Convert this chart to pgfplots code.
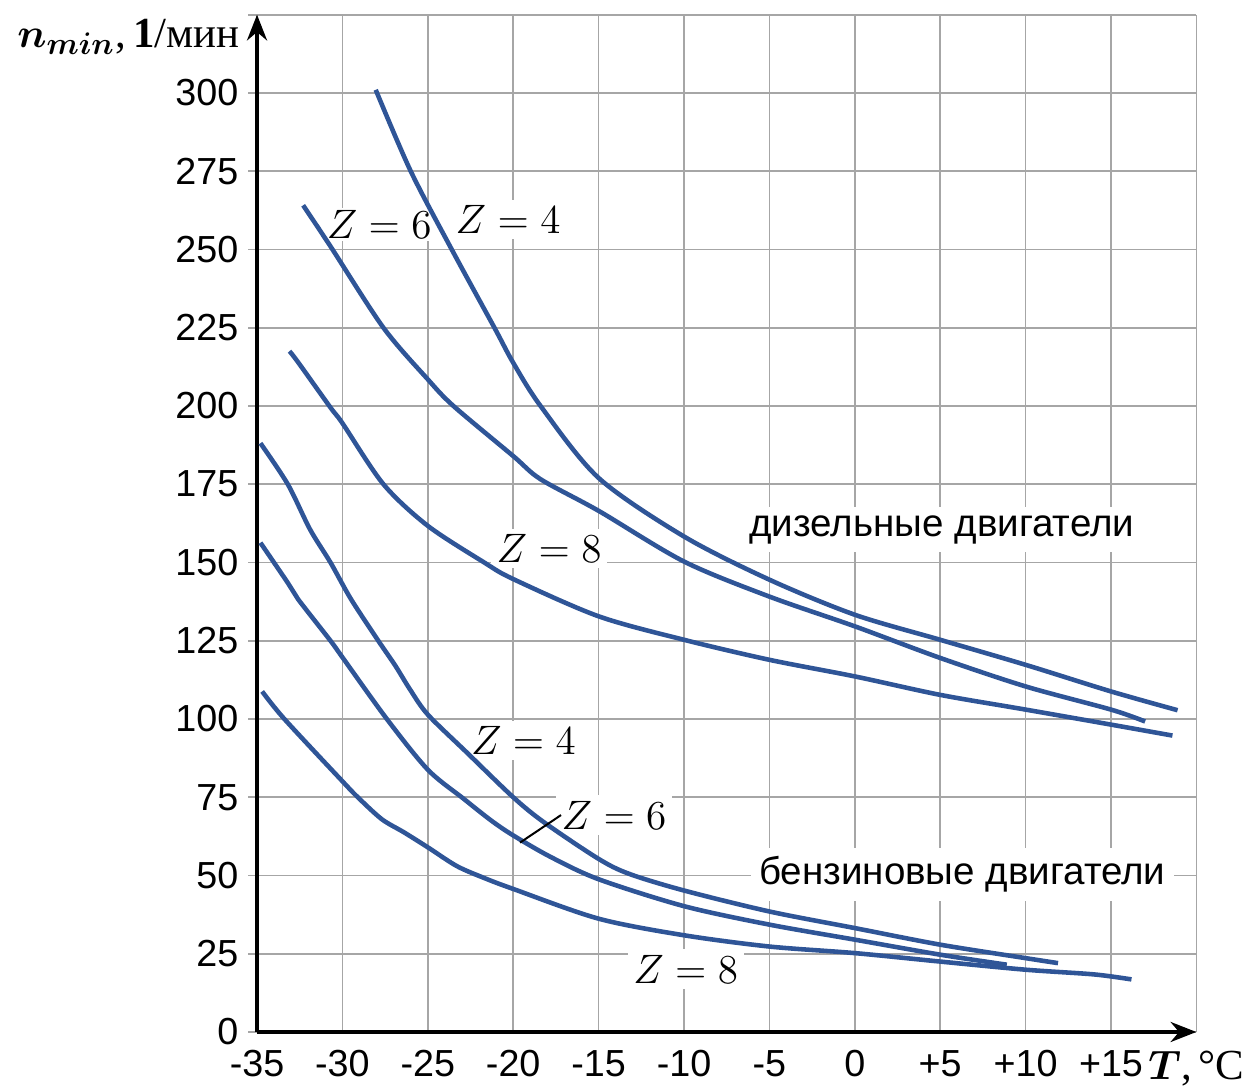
\documentclass[border=0pt]{standalone}
\usepackage{fontspec}
\setmainfont{Liberation Sans}
\newfontfamily\serif{Liberation Serif}
\usepackage{amsmath}
\usepackage{pgfplots}
\pgfplotsset{compat=1.18}
\usetikzlibrary{arrows.meta}
\definecolor{curve}{HTML}{2F5597}
\definecolor{gridc}{HTML}{A6A6A6}
\newcommand{\zfont}{\fontsize{14}{16}\selectfont}
\newcommand{\rfont}{\fontsize{13.5}{16}\selectfont}
\begin{document}
\begin{tikzpicture}
\begin{axis}[
  scale only axis, width=329pt, height=356.3pt,
  xmin=-35, xmax=20, ymin=0, ymax=325,
  axis x line=bottom, axis y line=left,
  axis line style={line width=1.4pt, -{Stealth[length=9pt,width=7pt]}},
  xtick={-35,-30,-25,-20,-15,-10,-5,0,5,10,15,20},
  xticklabels={-35,-30,-25,-20,-15,-10,-5,0,+5,+10,+15,},
  ytick={0,25,50,75,100,125,150,175,200,225,250,275,300,325},
  yticklabels={0,25,50,75,100,125,150,175,200,225,250,275,300,},
  grid=major, grid style={gridc, line width=0.6pt},
  xtick style={draw=none},
  ytick style={gridc, line width=0.6pt},
  major tick length=3pt, tick align=outside,
  tick label style={font=\fontsize{13.2}{15}\selectfont},
  clip=false,
]
% labels with white boxes
\node[fill=white, inner sep=0.8pt, font=\zfont] at (axis cs:-27.85,258) {$Z = 6$};
\node[fill=white, inner sep=2pt, font=\zfont] at (axis cs:-20.3,259.5) {$Z = 4$};
\node[fill=white, inner sep=2pt, font=\zfont] at (axis cs:-17.9,154.5) {$Z = 8$};
\node[fill=white, inner sep=3pt, font=\rfont] at (axis cs:5.1,160.5) {дизельные двигатели};
\node[fill=white, inner sep=2pt, font=\zfont] at (axis cs:-19.4,93.2) {$Z = 4$};
\node[fill=white, inner sep=2pt, font=\zfont] at (axis cs:-14.1,69.3) {$Z = 6$};
\node[fill=white, inner sep=3pt, font=\rfont] at (axis cs:6.3,50.4) {бензиновые двигатели};
\node[fill=white, inner sep=2pt, font=\zfont] at (axis cs:-9.9,20.1) {$Z = 8$};

% diesel Z=4
\addplot[curve, line width=1.6pt, smooth, tension=0.5] coordinates {
(-28.05,301) (-26,275) (-23.6,250) (-21.1,225) (-20,213.8)
(-18.4,200) (-15,177) (-10,158.3) (-5,144.5) (0,133.3)
(5,125.3) (10,117.3) (15,108.8) (18.9,102.8)};
% diesel Z=6
\addplot[curve, line width=1.6pt, smooth, tension=0.5] coordinates {
(-32.3,264.1) (-30.7,251) (-27.6,225) (-25,208.5) (-23.5,200)
(-20,184) (-18.4,176.6) (-15,166.5) (-10,150.3) (-5,139.1) (0,129.6)
(5,119.5) (10,110.4) (15,103) (17,99.2)};
% diesel Z=8
\addplot[curve, line width=1.6pt, smooth, tension=0.5] coordinates {
(-33.1,217.5) (-32.6,214) (-30.7,199.5) (-30,194.5) (-27.6,175) (-25,161.7)
(-21.7,150) (-20,144.7) (-15,132.8) (-10,125.3) (-5,118.9)
(0,113.6) (5,107.7) (10,103) (15,98.2) (18.6,94.7)};
% petrol Z=4
\addplot[curve, line width=1.6pt, smooth, tension=0.5] coordinates {
(-34.8,188.1) (-33.2,175) (-31.9,160.6) (-30.7,150) (-29.5,138.3) (-27.9,125)
(-26.9,117) (-26.05,109.5) (-25,101.4) (-22.7,89.2) (-20,75) (-18.2,67) (-15,55.3)
(-13.2,50.5) (-10,45.2) (-5,38.5) (0,33.2) (5,27.9) (10,23.6) (11.9,22)};
% petrol Z=6
\addplot[curve, line width=1.6pt, smooth, tension=0.5] coordinates {
(-34.8,156.3) (-33.2,143.5) (-32.6,138.3) (-30.7,125) (-30,119.7) (-27.4,100) (-25,83.8)
(-22.9,74.5) (-21.3,67.6) (-20,62.8) (-17.8,55.9) (-15,48.8) (-10,40.2) (-5,34.3)
(0,29.5) (5,24.7) (8.9,21.5)};
% petrol Z=8
\addplot[curve, line width=1.6pt, smooth, tension=0.5] coordinates {
(-34.7,108.8) (-33.4,100) (-30,80.1) (-29.1,75) (-27.7,68) (-26.4,63.8)
(-25,59) (-23.3,53) (-21.7,49.2) (-20,45.7) (-15,36.2) (-10,30.9)
(-5,27.3) (0,25.2) (5,22.5) (10,19.9) (14,18.4) (16.2,16.8)};

\draw[black, line width=0.7pt] (axis cs:-19.6,60.5) -- (axis cs:-17.2,69.3);

% axis titles
\node[anchor=base east, font=\fontsize{15}{17}\selectfont, inner sep=0pt]
  at ([xshift=-6pt,yshift=-11.5pt]rel axis cs:0,1)
  {{\boldmath$n_{min}$}\serif,\,{\bfseries 1}/мин};
\node[anchor=base west, font=\fontsize{15}{17}\selectfont, inner sep=0pt]
  at ([yshift=-16.5pt]axis cs:17.15,0)
  {{\boldmath$T$}\serif,\,°C};

\coordinate (bbl) at (axis cs:-50.05,-17.55);
\coordinate (btr) at (axis cs:22.73,329.7);
\end{axis}
\pgfresetboundingbox
\path[use as bounding box] (bbl) rectangle (btr);
\end{tikzpicture}
\end{document}
